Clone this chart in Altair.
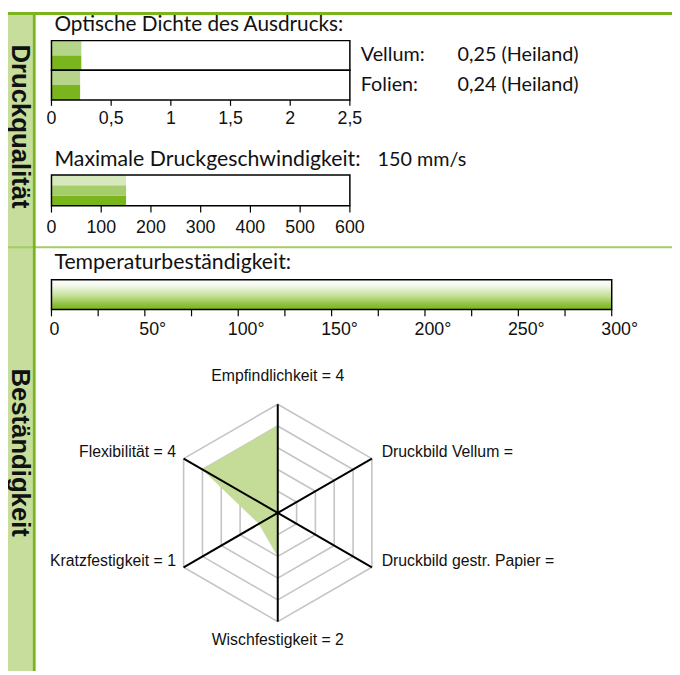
import altair as alt
import numpy as np
import pandas as pd

# ---------------- data ----------------
sektionen = ["Druckqualität", "Beständigkeit"]
titel = ["Optische Dichte des Ausdrucks:", "Maximale Druckgeschwindigkeit:", "Temperaturbeständigkeit:"]

dichte_medien = ["Vellum", "Folien"]
dichte_werte = [0.25, 0.24]
dichte_quelle = ["Heiland", "Heiland"]
dichte_ticks = [0, 0.5, 1, 1.5, 2, 2.5]
dichte_max = 2.5

speed_wert = 150
speed_einheit = "mm/s"
speed_ticks = [0, 100, 200, 300, 400, 500, 600]
speed_max = 600

temp_wert = 300
temp_ticks_major = [0, 50, 100, 150, 200, 250, 300]
temp_ticks_minor = [0, 25, 50, 75, 100, 125, 150, 175, 200, 225, 250, 275, 300]
temp_max = 300

radar_achsen = ["Empfindlichkeit", "Druckbild Vellum", "Druckbild gestr. Papier",
                "Wischfestigkeit", "Kratzfestigkeit", "Flexibilität"]
radar_werte = [4, None, None, 2, 1, 4]
radar_winkel = [90, 30, -30, -90, -150, 150]
radar_max = 5

# ---------------- styles ----------------
GREEN = "#7ab51d"
LIGHT = "#b5d68a"
LIGHTER = "#d6e9bd"
MID = "#a6cd6b"
SIDEBAR = "#c6dd9c"
DIVIDER = "#a3cd63"
RADAR_FILL = "#c5dc98"
GRID = "#c4c4c4"
TITLE_FONT = "Lato"
LABEL_FONT = "Liberation Sans, Arial, sans-serif"

W, H = 672, 667


def de(v, fmt="g"):
    return format(v, fmt).replace(".", ",")


one = pd.DataFrame({"a": [0]})
layers = []

# ---------------- decorations ----------------
layers.append(alt.Chart(one).mark_rect(color=GREEN).encode(
    x=alt.value(0), x2=alt.value(W), y=alt.value(0), y2=alt.value(3)))
layers.append(alt.Chart(one).mark_rect(color=SIDEBAR).encode(
    x=alt.value(0), x2=alt.value(25), y=alt.value(3), y2=alt.value(H)))
layers.append(alt.Chart(one).mark_rect(color=DIVIDER).encode(
    x=alt.value(0), x2=alt.value(W), y=alt.value(237), y2=alt.value(239)))
layers.append(alt.Chart(one).mark_rect(color=GREEN).encode(
    x=alt.value(25), x2=alt.value(28), y=alt.value(3), y2=alt.value(H)))

sek_df = pd.DataFrame({"name": sektionen, "yy": [116, 446]})
layers.append(alt.Chart(sek_df).mark_text(
    angle=90, font=LABEL_FONT, fontWeight="bold", fontSize=26,
    align="center", baseline="middle", color="#111").encode(
    x=alt.value(12), y=alt.Y("yy:Q", scale=None), text="name:N"))

tit_df = pd.DataFrame({"t": titel, "yy": [13, 150, 254], "fs": [21, 21.5, 21.5]})
layers.append(alt.Chart(tit_df).mark_text(
    align="left", baseline="middle", font=TITLE_FONT, color="#111").encode(
    x=alt.value(47), y=alt.Y("yy:Q", scale=None), text="t:N",
    size=alt.Size("fs:Q", scale=None, legend=None)))

# ---------------- panel 1: optische Dichte ----------------
P1X = alt.Scale(domain=[0, dichte_max], range=[44, 346], nice=False, zero=False)
P1Y = alt.Scale(domain=[0, 4], range=[89, 29], nice=False, zero=False)

rows = []
frames = []
texts = []
for i, (m, v, q) in enumerate(zip(dichte_medien, dichte_werte, dichte_quelle)):
    base = (len(dichte_medien) - 1 - i) * 2
    rows.append({"x0": 0, "x1": v, "y0": base + 1, "y1": base + 2, "farbe": LIGHT})
    rows.append({"x0": 0, "x1": v, "y0": base, "y1": base + 1, "farbe": GREEN})
    frames.append({"x0": 0, "x1": dichte_max, "y0": base, "y1": base + 2})
    texts.append({"ym": base + 1, "lbl": m + ":", "val": f"{de(v, '.2f')} ({q})"})
p1_bars = pd.DataFrame(rows)
p1_frames = pd.DataFrame(frames)
p1_texts = pd.DataFrame(texts)
p1_ticks = pd.DataFrame({"t": dichte_ticks, "lab": [de(t) for t in dichte_ticks]})

layers.append(alt.Chart(p1_bars).mark_rect().encode(
    x=alt.X("x0:Q", scale=P1X, axis=None), x2="x1:Q",
    y=alt.Y("y0:Q", scale=P1Y, axis=None), y2="y1:Q",
    color=alt.Color("farbe:N", scale=None)))
layers.append(alt.Chart(p1_frames).mark_rect(fillOpacity=0, stroke="black", strokeWidth=1.5).encode(
    x=alt.X("x0:Q", scale=P1X, axis=None), x2="x1:Q",
    y=alt.Y("y0:Q", scale=P1Y, axis=None), y2="y1:Q"))
layers.append(alt.Chart(p1_ticks).mark_rule(color="black", strokeWidth=1.2).encode(
    x=alt.X("t:Q", scale=P1X, axis=None), y=alt.value(89), y2=alt.value(95)))
layers.append(alt.Chart(p1_ticks).mark_text(font=LABEL_FONT, fontSize=18, baseline="middle", color="#111").encode(
    x=alt.X("t:Q", scale=P1X, axis=None), y=alt.value(108), text="lab:N"))
layers.append(alt.Chart(p1_texts).mark_text(align="left", baseline="middle", font=TITLE_FONT, fontSize=20, color="#111").encode(
    x=alt.value(357), y=alt.Y("ym:Q", scale=P1Y, axis=None), text="lbl:N"))
layers.append(alt.Chart(p1_texts).mark_text(align="left", baseline="middle", font=TITLE_FONT, fontSize=20, color="#111").encode(
    x=alt.value(455), y=alt.Y("ym:Q", scale=P1Y, axis=None), text="val:N"))

# ---------------- panel 2: Druckgeschwindigkeit ----------------
P2X = alt.Scale(domain=[0, speed_max], range=[44, 346], nice=False, zero=False)
P2Y = alt.Scale(domain=[0, 3], range=[196, 165], nice=False, zero=False)
p2_bars = pd.DataFrame({"x0": [0, 0, 0], "x1": [speed_wert] * 3,
                        "y0": [0, 1, 2], "y1": [1, 2, 3], "farbe": [GREEN, MID, LIGHTER]})
p2_frame = pd.DataFrame({"x0": [0], "x1": [speed_max], "y0": [0], "y1": [3]})
p2_ticks = pd.DataFrame({"t": speed_ticks, "lab": [str(t) for t in speed_ticks]})
p2_val = pd.DataFrame({"v": [f"{speed_wert} {speed_einheit}"]})

layers.append(alt.Chart(p2_bars).mark_rect().encode(
    x=alt.X("x0:Q", scale=P2X, axis=None), x2="x1:Q",
    y=alt.Y("y0:Q", scale=P2Y, axis=None), y2="y1:Q",
    color=alt.Color("farbe:N", scale=None)))
layers.append(alt.Chart(p2_frame).mark_rect(fillOpacity=0, stroke="black", strokeWidth=1.5).encode(
    x=alt.X("x0:Q", scale=P2X, axis=None), x2="x1:Q",
    y=alt.Y("y0:Q", scale=P2Y, axis=None), y2="y1:Q"))
layers.append(alt.Chart(p2_ticks).mark_rule(color="black", strokeWidth=1.2).encode(
    x=alt.X("t:Q", scale=P2X, axis=None), y=alt.value(196), y2=alt.value(203)))
layers.append(alt.Chart(p2_ticks).mark_text(font=LABEL_FONT, fontSize=18, baseline="middle", color="#111").encode(
    x=alt.X("t:Q", scale=P2X, axis=None), y=alt.value(219), text="lab:N"))
layers.append(alt.Chart(p2_val).mark_text(align="left", baseline="middle", font=TITLE_FONT, fontSize=20, color="#111").encode(
    x=alt.value(374), y=alt.value(150), text="v:N"))

# ---------------- panel 3: Temperatur ----------------
P3X = alt.Scale(domain=[0, temp_max], range=[44, 611], nice=False, zero=False)
grad = alt.Gradient(
    gradient="linear",
    stops=[alt.GradientStop(color="#ffffff", offset=0),
           alt.GradientStop(color="#f3f8eb", offset=0.2),
           alt.GradientStop(color="#c3df95", offset=0.55),
           alt.GradientStop(color="#8cbf38", offset=0.85),
           alt.GradientStop(color=GREEN, offset=1)],
    x1=0, x2=0, y1=0, y2=1)
p3_bar = pd.DataFrame({"x0": [0], "x1": [temp_wert]})
p3_frame = pd.DataFrame({"x0": [0], "x1": [temp_max]})
p3_minor = pd.DataFrame({"t": temp_ticks_minor})
p3_major = pd.DataFrame({"t": temp_ticks_major,
                         "lab": [("0" if t == 0 else f"{t}°") for t in temp_ticks_major]})

layers.append(alt.Chart(p3_bar).mark_rect(fill=grad).encode(
    x=alt.X("x0:Q", scale=P3X, axis=None), x2="x1:Q",
    y=alt.value(271), y2=alt.value(301)))
layers.append(alt.Chart(p3_frame).mark_rect(fillOpacity=0, stroke="black", strokeWidth=1.5).encode(
    x=alt.X("x0:Q", scale=P3X, axis=None), x2="x1:Q",
    y=alt.value(271), y2=alt.value(301)))
layers.append(alt.Chart(p3_minor).mark_rule(color="black", strokeWidth=1.2).encode(
    x=alt.X("t:Q", scale=P3X, axis=None), y=alt.value(301), y2=alt.value(308)))
layers.append(alt.Chart(p3_major[p3_major["t"] == 0]).mark_text(
    font=LABEL_FONT, fontSize=18, baseline="middle", dx=3, color="#111").encode(
    x=alt.X("t:Q", scale=P3X, axis=None), y=alt.value(322), text="lab:N"))
layers.append(alt.Chart(p3_major[p3_major["t"] > 0]).mark_text(
    font=LABEL_FONT, fontSize=18, baseline="middle", dx=8, color="#111").encode(
    x=alt.X("t:Q", scale=P3X, axis=None), y=alt.value(322), text="lab:N"))

# ---------------- radar ----------------
RX = alt.Scale(domain=[-radar_max, radar_max], range=[163, 383], nice=False, zero=False)
RY = alt.Scale(domain=[-radar_max, radar_max], range=[617, 397], nice=False, zero=False)
rad = np.deg2rad(radar_winkel)
cs, sn = np.cos(rad), np.sin(rad)

ring_rows = []
for r in range(1, radar_max + 1):
    for i in range(len(radar_achsen)):
        ring_rows.append({"ring": r, "o": i, "x": r * cs[i], "y": r * sn[i]})
rings = pd.DataFrame(ring_rows)

spokes = pd.DataFrame({"x0": 0.0, "y0": 0.0, "x1": radar_max * cs, "y1": radar_max * sn})

vals = [0 if v is None else v for v in radar_werte]
poly = pd.DataFrame({"o": range(len(vals)), "x": np.array(vals) * cs, "y": np.array(vals) * sn})

lab_rows = []
for i, (name, v) in enumerate(zip(radar_achsen, radar_werte)):
    txt = f"{name} = {v}" if v is not None else f"{name} ="
    lx = radar_max * cs[i] + (0.45 if cs[i] > 0.1 else (-0.35 if cs[i] < -0.1 else 0))
    ly = radar_max * sn[i] + (1.3 if sn[i] > 0.9 else (-0.85 if sn[i] < -0.9 else 0.3))
    al = "left" if cs[i] > 0.1 else ("right" if cs[i] < -0.1 else "center")
    lab_rows.append({"txt": txt, "x": lx, "y": ly, "al": al})
labs = pd.DataFrame(lab_rows)

layers.append(alt.Chart(rings).mark_line(interpolate="linear-closed", color=GRID, strokeWidth=1.6).encode(
    x=alt.X("x:Q", scale=RX, axis=None), y=alt.Y("y:Q", scale=RY, axis=None),
    detail="ring:N", order="o:Q"))
layers.append(alt.Chart(poly).mark_line(interpolate="linear-closed", fill=RADAR_FILL, stroke=RADAR_FILL, strokeWidth=0.5).encode(
    x=alt.X("x:Q", scale=RX, axis=None), y=alt.Y("y:Q", scale=RY, axis=None), order="o:Q"))
layers.append(alt.Chart(spokes).mark_rule(color="black", strokeWidth=2).encode(
    x=alt.X("x0:Q", scale=RX, axis=None), y=alt.Y("y0:Q", scale=RY, axis=None),
    x2="x1:Q", y2="y1:Q"))
for al in ["left", "right", "center"]:
    layers.append(alt.Chart(labs[labs["al"] == al]).mark_text(
        align=al, baseline="middle", font=LABEL_FONT, fontSize=16, color="#111").encode(
        x=alt.X("x:Q", scale=RX, axis=None), y=alt.Y("y:Q", scale=RY, axis=None), text="txt:N"))

chart = alt.layer(*layers).properties(
    width=W, height=H, padding=0,
    autosize=alt.AutoSizeParams(type="none"),
).resolve_scale(x="independent", y="independent").configure_view(stroke=None)

chart.save("out.html", embed_options={"renderer": "svg", "actions": False})
